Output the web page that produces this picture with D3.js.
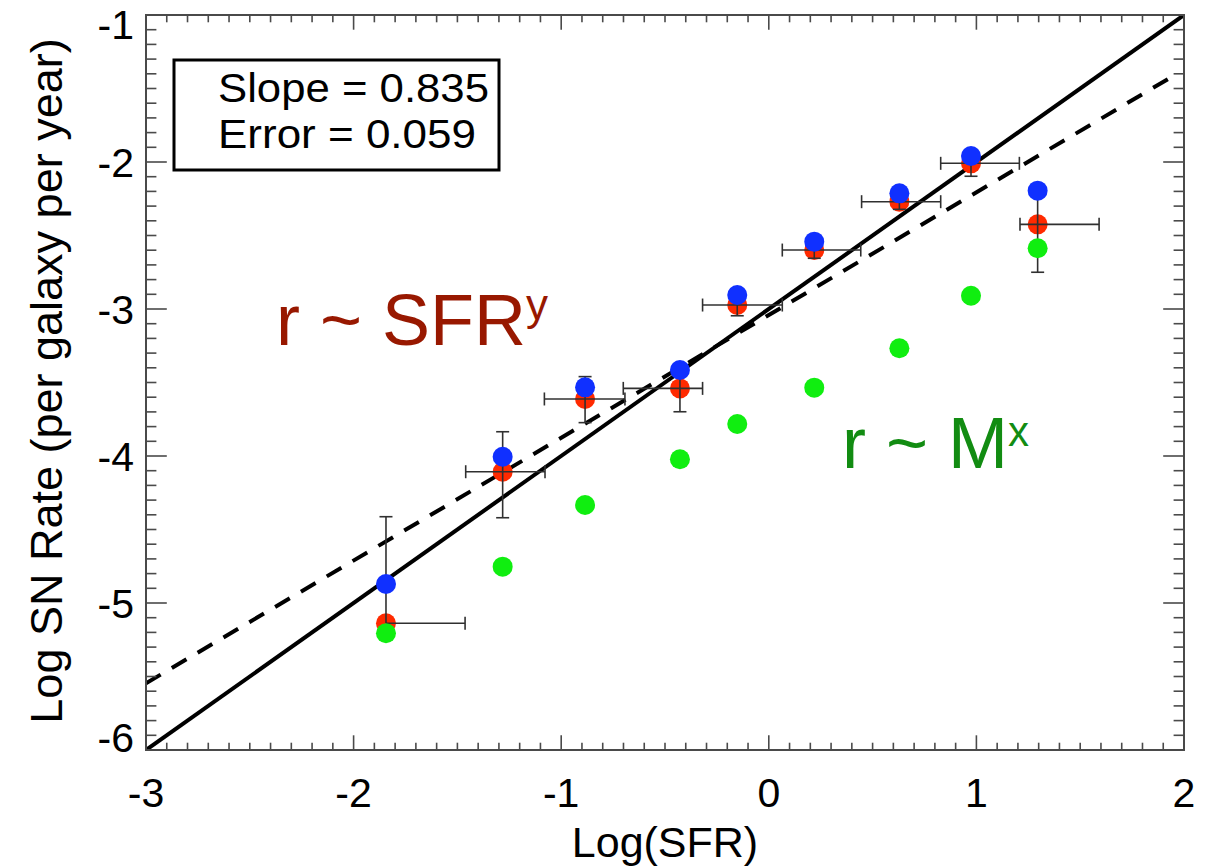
<!DOCTYPE html>
<html><head><meta charset="utf-8">
<script src="https://cdn.jsdelivr.net/npm/d3@7"></script>
<style>body{margin:0;background:#fff}svg{display:block;font-family:"Liberation Sans",Arial,Helvetica,sans-serif}</style>
</head><body><svg id="c" width="1220" height="868"></svg>
<script>
// ---- data ----
const logSFR    = [-1.844, -1.282, -0.885, -0.428, -0.152, 0.219, 0.629, 0.974, 1.295];
const rateRed   = [-5.138, -4.107, -3.612, -3.540, -2.973, -2.599, -2.270, -2.009, -2.424];
const rateBlue  = [-4.871, -4.005, -3.533, -3.415, -2.905, -2.542, -2.213, -1.959, -2.195];
const rateGreen = [-5.206, -4.753, -4.333, -4.022, -3.782, -3.535, -3.267, -2.910, -2.587];
const xErrLow   = [null, -1.460, -1.081, -0.701, -0.319, 0.065, 0.447, 0.828, 1.210];
const xErrHigh  = [-1.463, -1.078, -0.693, -0.319, 0.065, 0.443, 0.828, 1.207, 1.591];
const yErrLow   = [null, -4.420, -3.773, -3.699, -3.046, -2.655, -2.322, -2.097, -2.750];
const yErrHigh  = [-4.413, -3.835, -3.460, -3.381, -2.900, -2.543, -2.218, -1.921, -2.200];
const fitSolid  = [[-3, -6], [2, -1]];
const fitDashed = [[-3, -5.546], [1.95, -1.413]];
const xTicks = [-3, -2, -1, 0, 1, 2];
const yTicks = [-1, -2, -3, -4, -5, -6];
const statLabels = ["Slope = 0.835", "Error = 0.059"];

// ---- layout ----
const svg = d3.select("#c");
const L = 146, R = 1184, T = 15, B = 750;
const x = d3.scaleLinear().domain([-3, 2]).range([L, R]);
const y = d3.scaleLinear().domain([-6, -1]).range([B, T]);
const axCol = "#4a4a4a";

svg.append("clipPath").attr("id","clip").append("rect").attr("x",L).attr("y",T).attr("width",R-L).attr("height",B-T);
const plot = svg.append("g").attr("clip-path","url(#clip)");

// fit lines
const line = d3.line().x(d=>x(d[0])).y(d=>y(d[1]));
plot.append("path").attr("d", line(fitSolid)).attr("stroke","#000").attr("stroke-width",4).attr("fill","none");
plot.append("path").attr("d", line(fitDashed)).attr("stroke","#000").attr("stroke-width",4).attr("fill","none").attr("stroke-dasharray","17,13");

const idx = d3.range(logSFR.length);
plot.selectAll("circle.red").data(idx).join("circle").attr("class","red")
  .attr("cx",i=>x(logSFR[i])).attr("cy",i=>y(rateRed[i])).attr("r",10).attr("fill","#ff2a00");

// error bars
const eb = plot.append("g").attr("stroke","#303030").attr("stroke-width",1.6).attr("fill","none");
const cap = 6.5;
idx.forEach(i=>{
  const cx = x(logSFR[i]), cy = y(rateRed[i]);
  const x0 = xErrLow[i]==null ? cx : x(xErrLow[i]);
  const x1 = x(xErrHigh[i]);
  eb.append("line").attr("x1",x0).attr("x2",x1).attr("y1",cy).attr("y2",cy);
  if (xErrLow[i]!=null) eb.append("line").attr("x1",x0).attr("x2",x0).attr("y1",cy-cap).attr("y2",cy+cap);
  eb.append("line").attr("x1",x1).attr("x2",x1).attr("y1",cy-cap).attr("y2",cy+cap);
  const y0 = yErrLow[i]==null ? cy : y(yErrLow[i]);
  const y1 = y(yErrHigh[i]);
  eb.append("line").attr("x1",cx).attr("x2",cx).attr("y1",y0).attr("y2",y1);
  if (yErrLow[i]!=null) eb.append("line").attr("x1",cx-cap).attr("x2",cx+cap).attr("y1",y0).attr("y2",y0);
  eb.append("line").attr("x1",cx-cap).attr("x2",cx+cap).attr("y1",y1).attr("y2",y1);
});

plot.selectAll("circle.blue").data(idx).join("circle").attr("class","blue")
  .attr("cx",i=>x(logSFR[i])).attr("cy",i=>y(rateBlue[i])).attr("r",10).attr("fill","#1030ff");
plot.selectAll("circle.green").data(idx).join("circle").attr("class","green")
  .attr("cx",i=>x(logSFR[i])).attr("cy",i=>y(rateGreen[i])).attr("r",10).attr("fill","#10ee10");

// frame and ticks
svg.append("rect").attr("x",L).attr("y",T).attr("width",R-L).attr("height",B-T)
  .attr("fill","none").attr("stroke",axCol).attr("stroke-width",2);
const tk = svg.append("g").attr("stroke",axCol).attr("stroke-width",1.6);
const xMinor = d3.range(-30, 21).map(v=>v/10);
const yMinor = d3.range(-60, -9).map(v=>v/10);
xMinor.forEach(v=>{
  const major = Math.abs(v - Math.round(v)) < 1e-9;
  const len = major ? 14.7 : 7.3;
  tk.append("line").attr("x1",x(v)).attr("x2",x(v)).attr("y1",B).attr("y2",B-len);
  tk.append("line").attr("x1",x(v)).attr("x2",x(v)).attr("y1",T).attr("y2",T+len);
});
yMinor.forEach(v=>{
  const major = Math.abs(v - Math.round(v)) < 1e-9;
  const len = major ? 20.8 : 10.4;
  tk.append("line").attr("y1",y(v)).attr("y2",y(v)).attr("x1",L).attr("x2",L+len);
  tk.append("line").attr("y1",y(v)).attr("y2",y(v)).attr("x1",R).attr("x2",R-len);
});

// tick labels
svg.append("g").selectAll("text").data(xTicks).join("text")
  .attr("x",d=>x(d)).attr("y",807).attr("text-anchor","middle")
  .attr("font-size",41).attr("fill","#000").text(d=>d);
svg.append("g").selectAll("text").data(yTicks).join("text")
  .attr("x",134).attr("y",d=>Math.min(Math.max(y(d),24),737)+15).attr("text-anchor","end")
  .attr("font-size",41).attr("fill","#000").text(d=>d);

// axis titles
svg.append("text").attr("x",(L+R)/2).attr("y",857).attr("text-anchor","middle")
  .attr("font-size",43).text("Log(SFR)");
svg.append("text").attr("transform","translate(62,381) rotate(-90)").attr("text-anchor","middle")
  .attr("font-size",45).text("Log SN Rate (per galaxy per year)");

// stats box
svg.append("rect").attr("x",174).attr("y",60).attr("width",325).attr("height",110)
  .attr("fill","#fff").attr("stroke","#000").attr("stroke-width",3);
svg.append("g").selectAll("text").data(statLabels).join("text")
  .attr("x",218).attr("y",(d,i)=>102+i*46).attr("font-size",41).attr("textLength",(d,i)=>i?258:271)
  .attr("lengthAdjust","spacingAndGlyphs").text(d=>d);

// annotations
const a1 = svg.append("text").attr("x",276).attr("y",345).attr("font-size",72).attr("fill","#981800");
a1.append("tspan").text("r ~ SFR");
a1.append("tspan").attr("font-size",44).attr("dy",-25).text("y");
const a2 = svg.append("text").attr("x",842).attr("y",468).attr("font-size",72).attr("fill","#128c12");
a2.append("tspan").text("r ~ M");
a2.append("tspan").attr("font-size",42).attr("dy",-22).text("x");
</script></body></html>
